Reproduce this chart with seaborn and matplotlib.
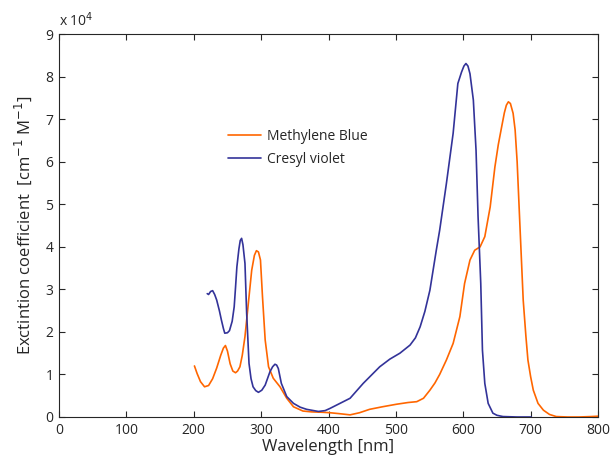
import pandas as pd
import seaborn as sns
import matplotlib.pyplot as plt

# Methylene Blue spectrum (extinction coefficient in units of 1e4 cm^-1 M^-1)
mb_wl = [201, 205, 210, 216, 222, 228, 234, 240, 244, 247, 250, 254, 258, 262,
         265, 268.5, 272, 276, 281, 286, 290, 293, 296, 299, 302, 306, 311,
         318, 328, 338, 348, 362, 375, 392, 402, 415, 432, 446, 461, 480, 501,
         518, 531, 541, 550.5, 558, 565, 575, 585, 595, 602, 610, 617, 625,
         632, 640, 647, 652, 657, 661, 664, 667, 670, 674, 677, 680, 684, 689,
         693, 696, 700, 704, 711, 719, 728, 738, 755, 772, 790, 802]
mb_val = [1.20, 1.02, 0.83, 0.71, 0.74, 0.90, 1.15, 1.45, 1.62, 1.68, 1.55,
          1.25, 1.08, 1.04, 1.08, 1.18, 1.45, 1.89, 2.67, 3.45, 3.80, 3.91,
          3.88, 3.69, 2.83, 1.81, 1.18, 0.91, 0.71, 0.44, 0.24, 0.14, 0.12,
          0.11, 0.10, 0.08, 0.05, 0.10, 0.18, 0.24, 0.30, 0.34, 0.36, 0.44,
          0.63, 0.80, 1.00, 1.34, 1.73, 2.36, 3.14, 3.69, 3.92, 4.00, 4.24,
          4.94, 5.88, 6.40, 6.82, 7.15, 7.33, 7.41, 7.37, 7.14, 6.75, 6.00,
          4.55, 2.75, 1.90, 1.34, 0.95, 0.63, 0.32, 0.16, 0.06, 0.01, 0.00,
          0.00, 0.01, 0.02]

# Cresyl violet spectrum
cv_wl = [220, 222, 225, 228, 231, 234, 238, 241, 244, 246, 250, 253, 257, 260,
         262, 264, 267, 269, 271, 273, 276, 278.5, 282, 285, 288, 292, 296,
         301, 306, 313, 317, 320.5, 323, 325.5, 330, 338, 348, 358, 367.5,
         385, 395, 402, 417, 432, 451.5, 476, 491, 506, 521, 529, 536, 543,
         550.5, 560, 565, 575, 585, 592, 597.5, 601, 604, 607, 610, 615, 619,
         622, 626, 628.5, 632, 637, 644, 650, 659, 680, 701]
cv_val = [2.90, 2.88, 2.95, 2.97, 2.88, 2.75, 2.50, 2.28, 2.08, 1.97, 1.98,
          2.03, 2.25, 2.59, 3.05, 3.53, 3.95, 4.15, 4.20, 4.05, 3.61, 2.44,
          1.26, 0.90, 0.71, 0.62, 0.58, 0.63, 0.75, 1.06, 1.18, 1.24, 1.22,
          1.14, 0.79, 0.48, 0.32, 0.23, 0.18, 0.13, 0.15, 0.20, 0.32, 0.44,
          0.79, 1.18, 1.36, 1.50, 1.69, 1.86, 2.12, 2.48, 2.98, 3.92, 4.39,
          5.49, 6.67, 7.84, 8.11, 8.25, 8.31, 8.25, 8.07, 7.45, 6.27, 4.71,
          3.14, 1.57, 0.79, 0.32, 0.09, 0.04, 0.01, 0.00, 0.00]

sns.set_style("ticks")
plt.rcParams["font.family"] = ["Open Sans", "DejaVu Sans"]

df_mb = pd.DataFrame({"wl": mb_wl, "val": mb_val})
df_cv = pd.DataFrame({"wl": cv_wl, "val": cv_val})

fig = plt.figure(figsize=(6.13, 4.68), dpi=100)
ax = fig.add_axes([0.0963, 0.109, 0.8792, 0.818])

sns.lineplot(data=df_mb, x="wl", y="val", ax=ax, color="#ff6600",
             linewidth=1.2, label="Methylene Blue", sort=False)
sns.lineplot(data=df_cv, x="wl", y="val", ax=ax, color="#333399",
             linewidth=1.2, label="Cresyl violet", sort=False)

ax.set_xlim(0, 800)
ax.set_ylim(0, 9)
ax.set_xticks(range(0, 801, 100))
ax.set_yticks(range(0, 10))
ax.tick_params(direction="in", top=True, right=True, labelsize=10, length=4,
               width=0.8, pad=4)
for s in ax.spines.values():
    s.set_linewidth(0.8)
    s.set_visible(True)

ax.set_xlabel("Wavelength [nm]", fontsize=12, labelpad=1)
ax.set_ylabel("Exctintion coefficient  [cm$^{-1}$ M$^{-1}$]", fontsize=12,
              labelpad=8)
ax.text(0.0, 1.012, "x 10$^4$", transform=ax.transAxes, fontsize=10,
        ha="left", va="bottom")

ax.legend(loc="upper left", bbox_to_anchor=(0.29, 0.785), frameon=False,
          fontsize=10, handlelength=2.4, handletextpad=0.4, labelspacing=0.6)

fig.savefig("out.png", dpi=100)
